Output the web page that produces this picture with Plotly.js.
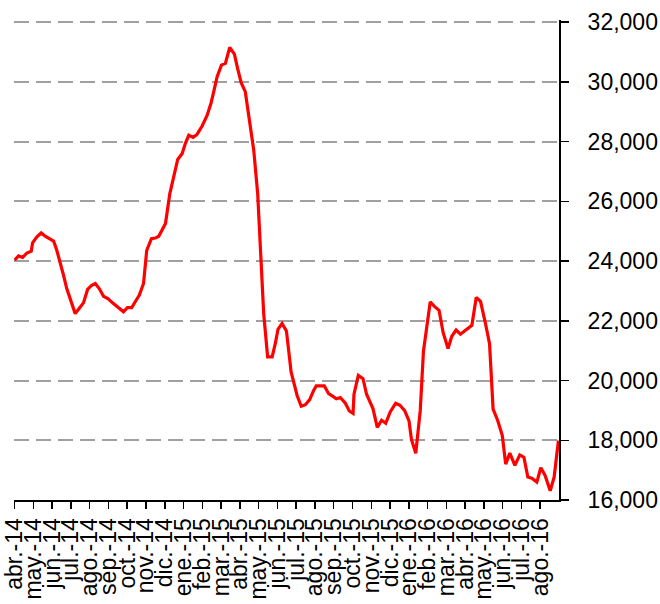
<!DOCTYPE html>
<html><head><meta charset="utf-8">
<script src="https://cdn.plot.ly/plotly-3.0.1.min.js"></script>
<style>html,body{margin:0;padding:0;background:#fff}</style>
</head><body><div id="chart" style="width:660px;height:604px"></div>
<script>
// Month tick labels (one per month, starting abr.-14)
const monthLabels = ["abr.-14","may.-14","jun.-14","jul.-14","ago.-14","sep.-14","oct.-14","nov.-14","dic.-14",
  "ene.-15","feb.-15","mar.-15","abr.-15","may.-15","jun.-15","jul.-15","ago.-15","sep.-15","oct.-15","nov.-15","dic.-15",
  "ene.-16","feb.-16","mar.-16","abr.-16","may.-16","jun.-16","jul.-16","ago.-16"];

// Position of each observation, in months since abr.-14
const monthPos = [0.00,0.21,0.43,0.66,0.89,0.96,1.19,1.42,1.63,1.90,2.08,2.25,2.43,2.61,2.78,3.02,3.23,3.44,3.67,3.89,
  4.11,4.30,4.51,4.74,4.97,5.22,5.44,5.63,5.80,6.01,6.24,6.42,6.64,6.87,7.04,7.29,7.50,7.68,7.86,8.04,
  8.27,8.48,8.69,8.93,9.10,9.28,9.51,9.72,9.99,10.26,10.47,10.61,10.79,11.02,11.23,11.46,11.71,11.88,12.07,12.29,
  12.52,12.74,12.95,13.13,13.27,13.48,13.72,13.89,14.03,14.25,14.48,14.60,14.73,15.05,15.27,15.49,15.72,15.93,16.07,16.50,
  16.73,16.96,17.14,17.35,17.62,17.83,18.03,18.08,18.31,18.56,18.75,19.09,19.32,19.55,19.77,20.01,20.30,20.53,20.78,21.01,
  21.14,21.37,21.61,21.78,22.14,22.35,22.61,22.83,23.09,23.29,23.52,23.75,24.03,24.36,24.59,24.82,25.07,25.30,25.49,25.73,
  25.98,26.16,26.38,26.65,26.91,27.13,27.34,27.55,27.82,28.03,28.26,28.53,28.74,28.97];

// Series values
const price = [24030,24170,24120,24270,24330,24610,24810,24940,24830,24750,24670,24360,23970,23520,23080,22630,22240,22410,22600,23050,
  23190,23250,23080,22820,22740,22600,22490,22410,22300,22440,22440,22630,22850,23250,24360,24750,24770,24830,25030,25260,
  26260,26820,27400,27600,27940,28210,28140,28240,28520,28880,29300,29670,30170,30560,30620,31150,30930,30450,29970,29670,
  28720,27710,26260,23690,22240,20790,20790,21240,21710,21910,21660,21010,20290,19500,19140,19190,19360,19670,19820,19820,
  19560,19470,19390,19430,19240,18980,18900,19540,20170,20060,19540,19060,18430,18670,18570,18950,19240,19170,18990,18650,
  18030,17560,19000,20980,22630,22490,22350,21600,21070,21480,21690,21550,21680,21850,22780,22650,21950,21230,19040,18670,
  18160,17200,17570,17160,17510,17430,16770,16730,16600,17080,16820,16310,16760,17990];

const yTicks = [16000,18000,20000,22000,24000,26000,28000,30000,32000];

const FONT = "Liberation Sans, Arial, sans-serif";

Plotly.newPlot("chart", [{
  x: monthPos, y: price, type: "scatter", mode: "lines",
  line: {color: "#ff0000", width: 3.2}, hoverinfo: "skip"
}], {
  width: 660, height: 604,
  margin: {l: 14, r: 101, t: 20, b: 104},
  paper_bgcolor: "#ffffff", plot_bgcolor: "#ffffff",
  showlegend: false,
  font: {family: FONT, size: 23, color: "#000000"},
  xaxis: {
    range: [-0.03, 29], tickmode: "array",
    tickvals: monthLabels.map((_, i) => i), ticktext: monthLabels,
    tickangle: -90, ticks: "outside", ticklen: 7, tickwidth: 1.5, tickcolor: "#000",
    showline: true, linecolor: "#000", linewidth: 2,
    showgrid: false, zeroline: false,
    tickfont: {family: FONT, size: 23, color: "#000"}
  },
  yaxis: {
    side: "right", range: [16000, 32070], tickmode: "array", tickvals: yTicks,
    tickformat: ",.0f",
    ticks: "outside", ticklen: 8, tickwidth: 1.5, tickcolor: "#000",
    ticklabelstandoff: 14,
    showline: true, linecolor: "#000", linewidth: 2,
    showgrid: true, gridcolor: "#a0a0a0", gridwidth: 2, griddash: "15px,7px",
    zeroline: false,
    tickfont: {family: FONT, size: 23, color: "#000"}
  }
}, {displayModeBar: false, staticPlot: true});
</script></body></html>
